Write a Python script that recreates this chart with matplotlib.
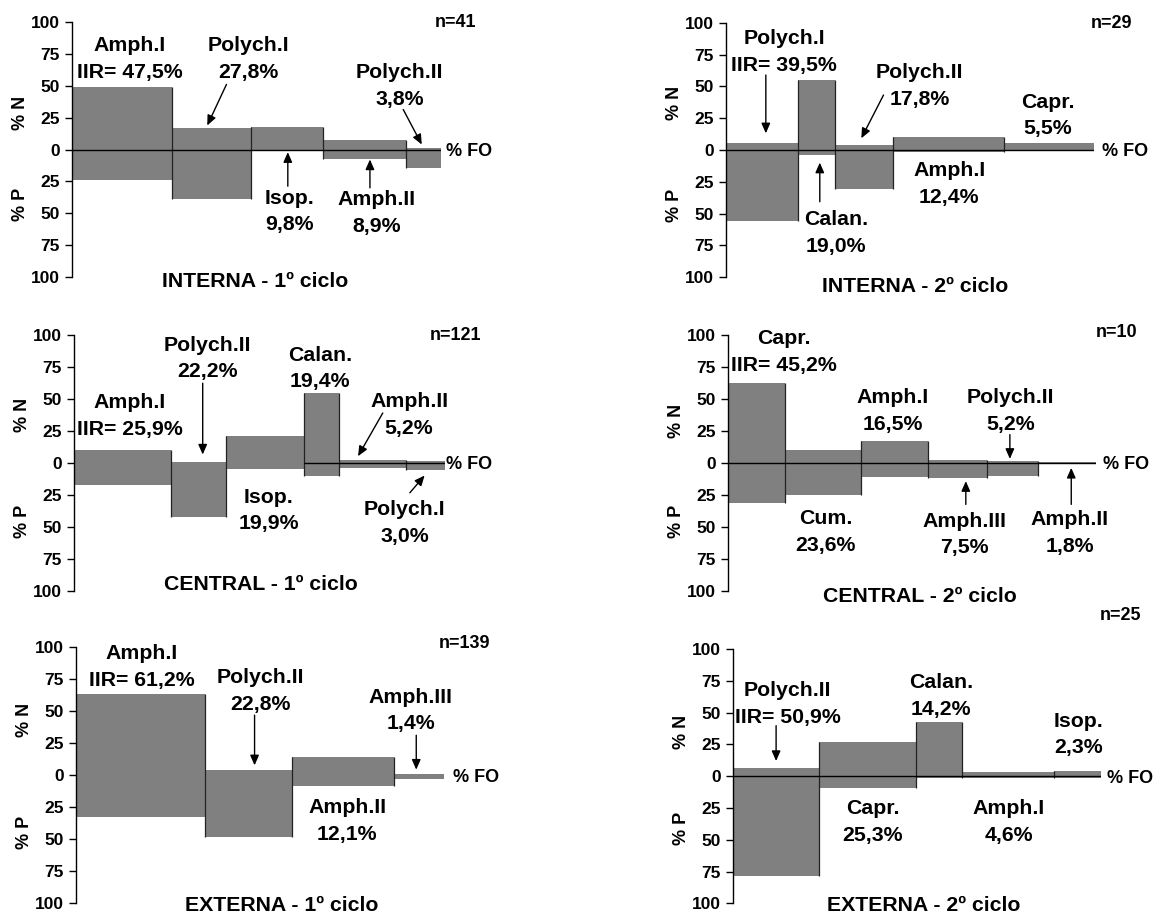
import numpy as np
import matplotlib.pyplot as plt

plt.rcParams['font.family'] = ['Liberation Sans', 'DejaVu Sans']
plt.rcParams['font.weight'] = 'bold'

# Dados: %FO (largura), %N (acima), %P (abaixo) e IIR de cada presa

# INTERNA - 1º ciclo
int1_presas = ["Amph.I", "Polych.I", "Isop.", "Amph.II", "Polych.II"]
int1_fo = [90.0, 71.0, 65.0, 74.7, 32.0]
int1_n = [49.0, 17.0, 17.7, 7.8, 1.3]
int1_p = [24.0, 38.5, 1.5, 7.3, 14.3]
int1_iir = [47.5, 27.8, 9.8, 8.9, 3.8]

# INTERNA - 2º ciclo
int2_presas = ["Polych.I", "Calan.", "Polych.II", "Amph.I", "Capr."]
int2_fo = [64.3, 33.3, 52.3, 100.0, 81.0]
int2_n = [5.7, 54.7, 3.7, 10.2, 5.2]
int2_p = [55.7, 4.2, 30.3, 1.3, 0.5]
int2_iir = [39.5, 19.0, 17.8, 12.4, 5.5]

# CENTRAL - 1º ciclo
cen1_presas = ["Amph.I", "Polych.II", "Isop.", "Calan.", "Amph.II", "Polych.I"]
cen1_fo = [87.7, 49.7, 70.0, 31.0, 61.0, 34.7]
cen1_n = [10.4, 0.8, 21.3, 54.6, 2.6, 1.8]
cen1_p = [17.4, 42.0, 5.2, 10.4, 3.9, 5.7]
cen1_iir = [25.9, 22.2, 19.9, 19.4, 5.2, 3.0]

# CENTRAL - 2º ciclo
cen2_presas = ["Capr.", "Cum.", "Amph.I", "Amph.III", "Polych.II", "Amph.II"]
cen2_fo = [51.7, 68.3, 60.0, 53.3, 46.0, 52.3]
cen2_n = [62.3, 10.4, 17.4, 2.6, 1.3, 0.5]
cen2_p = [31.7, 25.5, 11.2, 11.7, 9.9, 1.0]
cen2_iir = [45.2, 23.6, 16.5, 7.5, 5.2, 1.8]

# EXTERNA - 1º ciclo
ext1_presas = ["Amph.I", "Polych.II", "Amph.II", "Amph.III"]
ext1_fo = [116.7, 77.7, 92.3, 45.0]
ext1_n = [63.3, 4.4, 14.0, 0.8]
ext1_p = [32.6, 48.2, 8.3, 2.6]
ext1_iir = [61.2, 22.8, 12.1, 1.4]

# EXTERNA - 2º ciclo
ext2_presas = ["Polych.II", "Capr.", "Calan.", "Amph.I", "Isop."]
ext2_fo = [77.3, 87.3, 42.0, 82.3, 42.7]
ext2_n = [6.2, 27.0, 42.2, 3.6, 4.4]
ext2_p = [78.6, 9.1, 1.3, 1.3, 1.8]
ext2_iir = [50.9, 25.3, 14.2, 4.6, 2.3]

n_estomagos = [41, 29, 121, 10, 139, 25]
titulos = ["INTERNA - 1º ciclo", "INTERNA - 2º ciclo", "CENTRAL - 1º ciclo",
           "CENTRAL - 2º ciclo", "EXTERNA - 1º ciclo", "EXTERNA - 2º ciclo"]

# Disposição de cada painel: caixa em pixels (esq, dir, topo, base), rótulos, setas...
W, H = 1161, 915
paineis = [
    dict(dados=(int1_presas, int1_fo, int1_n, int1_p, int1_iir),
         caixa=(72.2, 441.4, 21.7, 277.3),
         rotulos=[(52, 72.5), (159, 72.5), (196, -47), (274, -48.3), (295, 51)],
         setas=[None, ((139, 50.9), (121.7, 18.8)), ((194.3, -28.7), (194.3, -2.1)),
                ((268.3, -30), (268.3, -7.8)), ((298.3, 31.3), (315, 3.9))],
         pos_n=(345.7, 101.3), pos_titulo=(165, -101.8), y_np=(29, -43),
         fo_x=336.7, linha_zero=0),
    dict(dados=(int2_presas, int2_fo, int2_n, int2_p, int2_iir),
         caixa=(726.2, 1093.6, 22.7, 277.3),
         rotulos=[(52.3, 78.5), (98.7, -63.5), (174, 51.7), (200.8, -24.9), (289.7, 28.8)],
         setas=[((35.7, 58.9), (35.7, 13.1)), ((84.3, -40.6), (84.3, -9.9)),
                ((141.7, 43.2), (121.7, 9.2)), None, None],
         pos_n=(346.7, 100.8), pos_titulo=(170, -106), y_np=(36.6, -43.2),
         fo_x=338.3, linha_zero=0),
    dict(dados=(cen1_presas, cen1_fo, cen1_n, cen1_p, cen1_iir),
         caixa=(74, 444.7, 335, 590.7),
         rotulos=[(50, 38.3), (120.3, 83.1), (175.3, -35.7), (222, 75.3), (302, 39), (298, -45.5)],
         setas=[None, ((116, 62.3), (116, 6.5)), None, None,
                ((278.3, 39), (256, 5.2)), ((302.7, -23.4), (316, -9.9))],
         pos_n=(344, 101.3), pos_titulo=(168.3, -93.5), y_np=(37.7, -45.5),
         fo_x=335, linha_zero=3),
    dict(dados=(cen2_presas, cen2_fo, cen2_n, cen2_p, cen2_iir),
         caixa=(728, 1096, 335, 590.7),
         rotulos=[(50, 88.3), (88, -52.6), (148.3, 42.2), (213.3, -54.5), (254.7, 42.2), (308, -53.2)],
         setas=[None, None, None, ((214.3, -32.5), (214.3, -14.3)),
                ((254, 22.1), (254, 3.1)), ((309.3, -32.5), (309.3, -3.9))],
         pos_n=(350, 103.9), pos_titulo=(173.3, -102.6), y_np=(32.5, -45.5),
         fo_x=338.3, linha_zero=0),
    dict(dados=(ext1_presas, ext1_fo, ext1_n, ext1_p, ext1_iir),
         caixa=(75.9, 444, 647.3, 903.3),
         rotulos=[(59.2, 86.2), (166, 67.2), (244.5, -34), (301.7, 52.2)],
         setas=[None, ((161, 47), (161, 7.8)), None, ((306.7, 31.3), (306.7, 4.4))],
         pos_n=(350, 104.4), pos_titulo=(185, -100.5), y_np=(43, -44.4),
         fo_x=340, linha_zero=None),
    dict(dados=(ext2_presas, ext2_fo, ext2_n, ext2_p, ext2_iir),
         caixa=(732.8, 1101, 649, 903.3),
         rotulos=[(49.5, 58.2), (126.2, -34.4), (187.7, 64.8), (248.5, -34.4), (311.5, 34.4)],
         setas=[((39, 39.7), (39, 11.9)), None, None, None, None],
         pos_n=(348.8, 128), pos_titulo=(172.3, -100.3), y_np=(34.4, -41),
         fo_x=337.3, linha_zero=0),
]


def pct(v):
    return f"{v:.1f}".replace(".", ",") + "%"


fig = plt.figure(figsize=(W / 100, H / 100), dpi=100)

for painel, titulo, n in zip(paineis, titulos, n_estomagos):
    presas, fo, pn, pp, iir = painel['dados']
    fo, pn, pp = np.array(fo), np.array(pn), np.array(pp)
    x0, x1, y_topo, y_base = painel['caixa']
    ax = fig.add_axes([x0 / W, 1 - y_base / H, (x1 - x0) / W, (y_base - y_topo) / H])

    esq = np.concatenate([[0], np.cumsum(fo)[:-1]])
    total = fo.sum()

    # diagrama de Costello: %N para cima, %P para baixo, largura = %FO
    ax.bar(esq, pn + pp, width=fo, bottom=-pp, align='edge',
           color='#808080', linewidth=0, zorder=1)
    for i in range(1, len(fo)):
        ax.vlines(esq[i], -max(pp[i - 1], pp[i]), max(pn[i - 1], pn[i]),
                  color='#222222', lw=0.9, zorder=2)
    if painel['linha_zero'] is not None:
        ax.hlines(0, esq[painel['linha_zero']], total, color='black', lw=1.0, zorder=3)

    ax.set_xlim(0, total)
    ax.set_ylim(-100, 100)
    ticks = list(range(-100, 101, 25))
    ax.set_yticks(ticks)
    ax.set_yticklabels([str(abs(t)) for t in ticks])
    ax.set_xticks([])
    for lado in ['top', 'right', 'bottom']:
        ax.spines[lado].set_visible(False)
    ax.spines['left'].set_linewidth(1.0)
    ax.tick_params(axis='y', length=4.8, width=1.0, pad=4, labelsize=12.5)
    ax.patch.set_visible(False)

    # rótulos das presas
    maior = max(iir)
    for nome, v, (lx, ly), seta in zip(presas, iir, painel['rotulos'], painel['setas']):
        valor = ("IIR= " + pct(v)) if v == maior else pct(v)
        ax.annotate(nome, (lx, ly), xytext=(0, 9.6), textcoords='offset points',
                    ha='center', va='center_baseline', fontsize=15.3, annotation_clip=False)
        ax.annotate(valor, (lx, ly), xytext=(0, -9.6), textcoords='offset points',
                    ha='center', va='center_baseline', fontsize=15.3, annotation_clip=False)
        if seta is not None:
            ax.annotate('', xy=seta[1], xytext=seta[0], annotation_clip=False,
                        arrowprops=dict(arrowstyle='-|>,head_length=0.5,head_width=0.22',
                                        color='black', lw=1.0, mutation_scale=12,
                                        shrinkA=0, shrinkB=0))

    ax.text(*painel['pos_titulo'], titulo, ha='center', va='center_baseline', fontsize=15.3)
    ax.text(*painel['pos_n'], f"n={n}", ha='center', va='center_baseline', fontsize=13)
    ax.text(painel['fo_x'], 0, "% FO", ha='left', va='center_baseline', fontsize=13)

    yN, yP = painel['y_np']
    for rot, yy in (("% N", yN), ("% P", yP)):
        ax.annotate(rot, xy=(0, yy), xycoords=ax.get_yaxis_transform(),
                    xytext=(-37, 0), textcoords='offset points', rotation=90,
                    ha='center', va='center', fontsize=13, annotation_clip=False)

fig.savefig("out.png", dpi=100)
